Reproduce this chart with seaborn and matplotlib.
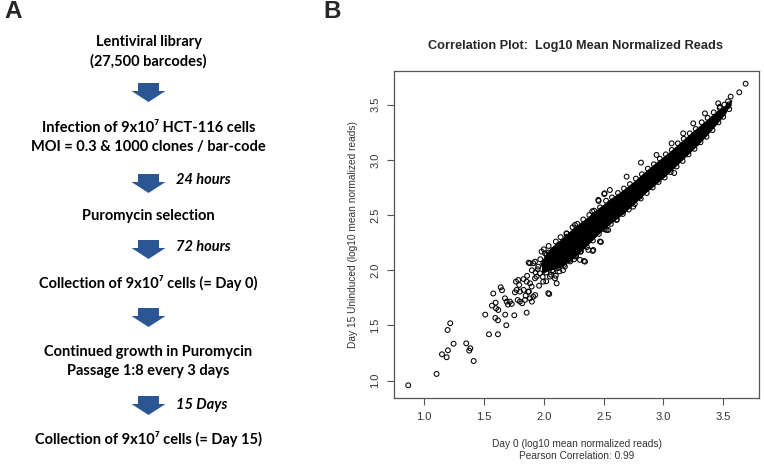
import matplotlib
matplotlib.use("Agg")
import matplotlib.pyplot as plt
from matplotlib.patches import Polygon
import seaborn as sns

# --- data (log10 mean normalized reads) ---
# isolated barcodes outside / around the dense cloud
outlier_x = [0.866, 1.103, 1.148, 1.187, 1.198, 1.195, 1.217, 1.245, 1.351, 1.385, 1.376, 1.413,
             1.510, 1.541, 1.577, 1.566, 1.597, 1.600, 1.619, 1.594, 1.616, 1.616, 1.639, 1.650,
             1.675, 1.689, 1.700, 1.677, 1.686, 1.731, 1.753, 1.758, 1.767, 1.781, 1.794, 1.819,
             1.831, 1.856, 1.848, 1.873, 1.875, 1.884, 1.900, 1.912, 1.928, 1.926, 1.948, 1.995,
             2.037, 2.045, 2.009, 1.912, 2.335, 2.408, 2.477, 2.254, 2.304,
             1.786, 1.772, 1.800, 1.717, 1.800, 1.842, 1.884, 1.870, 1.898, 1.856, 1.940, 1.967,
             1.953, 1.995, 2.023, 2.051, 1.981, 1.884, 1.926, 2.051, 2.079, 2.093, 2.107, 2.176,
             2.218, 2.260, 2.302, 2.344, 2.372, 2.413, 2.469, 2.525,
             2.260, 2.190, 2.121, 2.079, 2.023, 2.455,
             3.687, 3.634, 3.562, 3.542, 3.278, 3.090, 2.812, 2.508, 2.458, 2.405, 2.747, 2.720,
             2.538, 2.190,
             2.505, 2.956, 2.887, 2.803, 2.664, 2.608, 3.137, 3.054, 3.193, 2.552, 2.692, 2.942,
             3.068, 3.547, 3.402, 3.333, 3.249, 3.347, 3.458, 3.165, 3.138, 3.472,
             1.960, 1.990, 2.020, 2.060, 2.100, 2.130, 2.160, 1.930, 1.900, 1.970, 2.040, 2.000,
             1.860, 1.830]
outlier_y = [0.958, 1.061, 1.239, 1.212, 1.275, 1.459, 1.520, 1.335, 1.338, 1.293, 1.272, 1.178,
             1.598, 1.420, 1.790, 1.680, 1.707, 1.656, 1.640, 1.568, 1.547, 1.420, 1.846, 1.819,
             1.746, 1.716, 1.689, 1.598, 1.502, 1.695, 1.592, 1.800, 1.897, 1.731, 1.867, 1.701,
             1.822, 1.616, 1.770, 2.069, 1.806, 1.882, 1.716, 1.761, 1.776, 1.927, 2.009, 1.897,
             1.792, 1.785, 2.154, 2.063, 2.084, 2.175, 2.256, 2.100, 2.168,
             1.912, 1.822, 1.807, 1.716, 1.716, 1.731, 1.746, 1.807, 1.852, 1.897, 1.943, 1.973,
             2.033, 2.063, 2.094, 2.124, 2.169, 2.063, 2.078, 1.943, 1.988, 1.927, 1.882, 2.033,
             2.094, 2.124, 2.094, 2.078, 2.184, 2.184, 2.260, 2.365,
             2.411, 2.335, 2.229, 2.184, 2.139, 2.637,
             3.690, 3.612, 3.573, 3.488, 3.150, 2.881, 2.975, 2.697, 2.628, 2.534, 2.576, 2.607,
             2.365, 2.304,
             2.691, 2.863, 2.758, 2.667, 2.531, 2.456, 3.045, 2.939, 3.090, 2.727, 2.848, 3.045,
             3.150, 3.503, 3.331, 3.240, 3.331, 3.421, 3.512, 3.240, 3.029, 3.482,
             1.860, 1.940, 1.900, 1.960, 1.950, 1.990, 2.000, 1.980, 2.000, 2.100, 2.160, 2.050,
             1.950, 1.920]

# circles on the rim of the dense cloud (upper rim, then lower rim)
rim_x = [2.00, 2.04, 2.10, 2.14, 2.19, 2.24, 2.28, 2.33, 2.38, 2.42, 2.47, 2.52, 2.57, 2.62,
         2.67, 2.72, 2.77, 2.82, 2.87, 2.92, 2.97, 3.02, 3.07, 3.12, 3.17, 3.22, 3.27, 3.32,
         3.37, 3.42, 3.47, 3.51, 3.54,
         2.02, 2.07, 2.12, 2.17, 2.22, 2.27, 2.31, 2.36, 2.41, 2.46, 2.51, 2.56, 2.61, 2.66,
         2.71, 2.76, 2.81, 2.86, 2.91, 2.96, 3.01, 3.06, 3.11, 3.16, 3.21, 3.26, 3.31, 3.36,
         3.41, 3.46, 3.50, 3.55]
rim_y = [2.19, 2.22, 2.26, 2.30, 2.33, 2.39, 2.42, 2.46, 2.50, 2.54, 2.57, 2.63, 2.66, 2.70,
         2.74, 2.78, 2.83, 2.87, 2.92, 2.96, 3.01, 3.05, 3.09, 3.15, 3.19, 3.24, 3.28, 3.34,
         3.38, 3.43, 3.47, 3.50, 3.53,
         1.98, 2.00, 2.02, 2.05, 2.08, 2.13, 2.17, 2.21, 2.27, 2.33, 2.37, 2.42, 2.46, 2.51,
         2.55, 2.60, 2.65, 2.70, 2.75, 2.80, 2.84, 2.89, 2.94, 2.99, 3.05, 3.10, 3.16, 3.21,
         3.27, 3.34, 3.39, 3.46]

# envelope of the solid black core (thousands of overlapping circles)
core_x = [1.98, 2.05, 2.15, 2.25, 2.35, 2.45, 2.55, 2.65, 2.75, 2.85, 2.95, 3.05, 3.15,
          3.25, 3.35, 3.45, 3.52, 3.57]
core_lo = [1.97, 2.00, 2.03, 2.11, 2.21, 2.32, 2.415, 2.50, 2.595, 2.70, 2.79, 2.885, 2.99,
           3.095, 3.205, 3.33, 3.42, 3.53]
core_hi = [2.09, 2.20, 2.29, 2.39, 2.47, 2.56, 2.645, 2.72, 2.805, 2.90, 2.99, 3.075, 3.17,
           3.265, 3.355, 3.45, 3.50, 3.55]

tick_values = [1.0, 1.5, 2.0, 2.5, 3.0, 3.5]

# --- panel A flow chart text ---
flow_lines = ["Lentiviral library", "(27,500 barcodes)",
              "Infection of 9x10\u2077 HCT-116 cells", "MOI = 0.3 & 1000 clones / bar-code",
              "Puromycin selection",
              "Collection of 9x10\u2077 cells (= Day 0)",
              "Continued growth in Puromycin", "Passage 1:8 every 3 days",
              "Collection of 9x10\u2077 cells (= Day 15)"]
flow_y = [42, 61, 128, 147, 216, 283, 352, 371, 439]
arrow_top = [83, 174, 240, 308, 396]
delay_labels = ["24 hours", "72 hours", "15 Days"]
delay_y = [180, 247, 405]

W, H = 764, 467
fig = plt.figure(figsize=(W / 100, H / 100), dpi=100)
sns.set_style("white")

# --- A: flow chart drawn in pixel coordinates ---
axA = fig.add_axes([0, 0, 1, 1])
axA.set_xlim(0, W)
axA.set_ylim(H, 0)
axA.axis("off")

flow_font = ["Lato", "DejaVu Sans"]
cx = 148.5
for txt, yy in zip(flow_lines, flow_y):
    axA.text(cx, yy, txt, ha="center", va="center", fontsize=10.5,
             fontweight="bold", family=flow_font, color="black")

arrow_color = "#2b5694"
for top in arrow_top:
    shoulder, tip = top + 8, top + 19
    pts = [(cx - 10.5, top), (cx + 10.5, top), (cx + 10.5, shoulder), (cx + 17, shoulder),
           (cx, tip), (cx - 17, shoulder), (cx - 10.5, shoulder)]
    axA.add_patch(Polygon(pts, closed=True, facecolor=arrow_color, edgecolor="none"))

for txt, yy in zip(delay_labels, delay_y):
    axA.text(176, yy, txt, ha="left", va="center", fontsize=10.5, fontweight="bold",
             fontstyle="italic", family=flow_font, color="black")

axA.text(4, 12, "A", ha="left", va="center", fontsize=17.5, fontweight="bold",
         family=["Liberation Sans", "DejaVu Sans"])
axA.text(323, 12, "B", ha="left", va="center", fontsize=17.5, fontweight="bold",
         family=["Liberation Sans", "DejaVu Sans"])

# --- B: correlation scatter ---
left, right, top_px, bottom = 394, 759, 71, 398
ax = fig.add_axes([left / W, 1 - bottom / H, (right - left) / W, (bottom - top_px) / H])
ax.fill_between(core_x, core_lo, core_hi, color="black", linewidth=0)
sns.scatterplot(x=outlier_x + rim_x, y=outlier_y + rim_y, ax=ax, marker="o", s=12,
                facecolor="none", edgecolor="black", linewidth=0.75)
ax.set_xlim(0.747, 3.799)
ax.set_ylim(0.843, 3.805)

arial = ["Liberation Sans", "DejaVu Sans"]
ax.set_xticks(tick_values)
ax.set_yticks(tick_values)
ax.set_xticklabels([f"{v:.1f}" for v in tick_values], family=arial, fontsize=8, color="#333333")
ax.set_yticklabels([f"{v:.1f}" for v in tick_values], family=arial, fontsize=8, color="#333333",
                   rotation=90, va="center")
ax.tick_params(axis="both", direction="out", length=5, width=0.8, color="#555555", pad=5,
               bottom=True, left=True)
for sp in ax.spines.values():
    sp.set_color("#555555")
    sp.set_linewidth(0.9)

ax.set_xlabel("Day 0 (log10 mean normalized reads)\nPearson Correlation: 0.99",
              family=arial, fontsize=7.3, color="#333333", labelpad=12, linespacing=1.25)
ax.set_ylabel("Day 15 Uninduced (log10 mean normalized reads)", family=arial, fontsize=7.3,
              color="#333333", labelpad=9)
fig.text(576 / W, 1 - 46 / H, "Correlation Plot:  Log10 Mean Normalized Reads", ha="center",
         va="center", fontsize=9.2, fontweight="bold", family=arial)

fig.savefig("out.png", dpi=100, facecolor="white")
